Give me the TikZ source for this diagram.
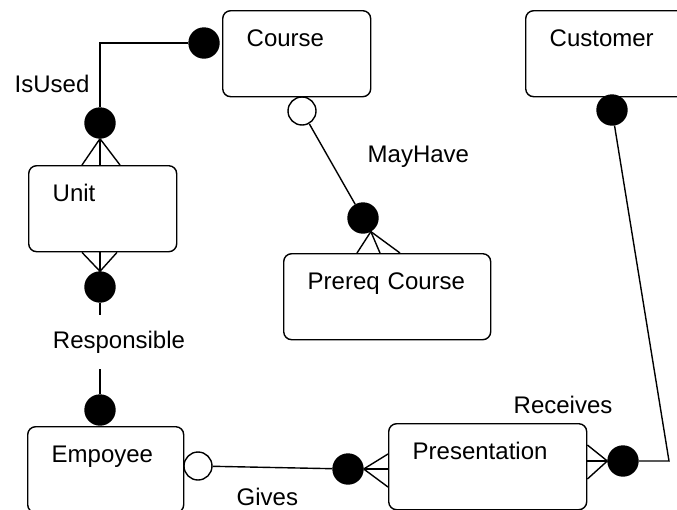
\documentclass[tikz,border=0pt]{standalone}
\usepackage{fontspec}
\setmainfont{Liberation Sans}
\usepackage{tikz}
\usetikzlibrary{calc,positioning}
\tikzset{
  % entity box: text in the upper left corner
  entity/.style = {
    draw, rounded corners=8pt, anchor=north west,
    inner xsep=24pt, inner ysep=0pt,
    text height=36pt, text depth=50pt,
    text width=#1, align=left
  },
  % filled and empty end points
  fdot/.style = {circle, draw, fill=black, minimum size=30pt, inner sep=0pt},
  edot/.style = {circle, draw, fill=white, minimum size=28pt, inner sep=0pt},
  rel/.style  = {anchor=base west, inner sep=0pt},
  er schemes/.style = {
    line width = 1.4pt,
    font = \fontsize{24}{28}\selectfont
  }
}
\begin{document}
\begin{tikzpicture}[er schemes, x=1pt, y=-1pt]
\clip (0,0) rectangle (677,509);

\node[entity=100pt] (course)   at (222, 10) {Course};
\node[entity=127pt] (customer) at (525, 10) {Customer};
\node[entity=100pt] (unit)     at ( 28,165) {Unit};
\node[entity=159pt] (prereq)   at (283,253) {Prereq Course};
\node[entity=108pt] (empoyee)  at ( 27,426) {Empoyee};
\node[entity=150pt] (present)  at (388,423) {Presentation};

%---------------------------------------------
% IsUsed
\node[fdot] (cu) at (204, 43) {};
\node[fdot] (uc) at (100,123) {};
\draw (cu) -| (uc);
\foreach \d in {54,72,92}
  \draw (uc.south) -- ($(unit.north west)+(\d,0)$);
\node[rel] (isused) at (14,92) {IsUsed};

% Responsible
\node[fdot] (ue) at (100,287) {};
\node[fdot] (eu) at (100,410) {};
\foreach \d in {54,72,89}
  \draw (ue.north) -- ($(unit.south west)+(\d,0)$);
\node[inner xsep=0pt, minimum height=53pt] (resp) at (119,342) {Responsible};
\draw (ue) -- (ue |- resp.north);
\draw (eu) -- (eu |- resp.south);

% MayHave
\node[edot] (cp) at (302,111) {};
\node[fdot] (pc) at (363,218) {};
\draw (cp) -- (pc);
\foreach \d in {74,97,117}
  \draw (pc.-60) -- ($(prereq.north west)+(\d,0)$);
\node[rel] (mayhave) at (367,162) {MayHave};

% Gives
\node[edot] (ep) at (198,466) {};
\node[fdot] (pe) at (348,469) {};
\draw (ep) -- (pe);
\foreach \d in {31,46,64}
  \draw (pe.east) -- ($(present.north west)+(0,\d)$);
\node[rel] (gives) at (236,505) {Gives};

% Receives
\node[fdot] (cr) at (612,110) {};
\node[fdot] (rc) at (623,461) {};
\coordinate (bend) at (669,461);
\draw (cr) -- (bend) -- (rc);
\foreach \d in {22,38,56}
  \draw (rc.west) -- ($(present.north east)+(0,\d)$);
\node[rel] (receives) at (513,413) {Receives};

\end{tikzpicture}
\end{document}
